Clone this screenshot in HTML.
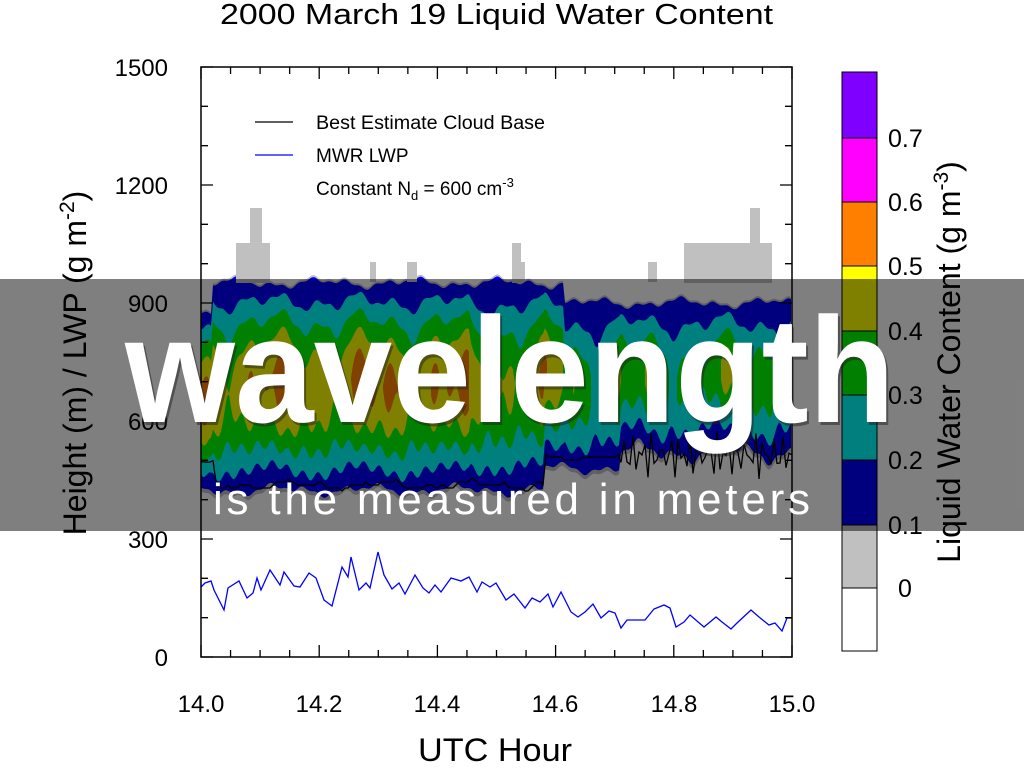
<!DOCTYPE html>
<html><head><meta charset="utf-8"><style>
html,body{margin:0;padding:0;background:#fff;}
svg{display:block;font-family:"Liberation Sans",sans-serif;}
</style></head><body>
<svg id="s" width="1024" height="768" viewBox="0 0 1024 768" xmlns="http://www.w3.org/2000/svg">
<rect width="1024" height="768" fill="#fff"/>
<text x="220" y="24" font-size="29" textLength="553" lengthAdjust="spacingAndGlyphs">2000 March 19 Liquid Water Content</text>
<g id="cloud"></g>
<g fill="#c0c0c0">
<rect x="236" y="243" width="34" height="40"/><rect x="250" y="208" width="12" height="40"/>
<rect x="370" y="262" width="6" height="20"/><rect x="407" y="262" width="10" height="20"/>
<rect x="512" y="243" width="9" height="40"/><rect x="521" y="262" width="4" height="20"/>
<rect x="648" y="262" width="9" height="20"/><rect x="684" y="243" width="88" height="40"/>
<rect x="750" y="208" width="10" height="40"/>
</g>
<polyline id="base" fill="none" stroke="#000" stroke-width="1.3"/>
<polyline id="lwp" fill="none" stroke="#0000ff" stroke-width="1.3" points="201,587 205,583 211,581 214,590 224,610 228,588 239,581 247,598 253,593 257,578 261,590 270,570 280,585 284,572 294,586 300,587 309,573 316,578 324,600 332,606 342,567 348,577 351,557 359,590 366,583 370,588 378,552 384,575 392,589 399,583 405,594 415,575 423,588 429,593 435,585 441,592 451,578 461,581 469,577 477,592 482,582 490,587 496,583 506,600 514,594 525,608 532,598 540,602 548,594 553,607 561,592 571,612 578,617 585,612 593,604 601,618 609,611 615,613 621,628 627,620 637,620 645,620 654,609 664,605 670,608 676,627 684,622 690,615 704,627 716,617 722,622 731,629 737,623 751,610 759,617 769,625 775,623 782,631 787,618 792,618"/>
<rect x="201" y="67" width="591" height="590" fill="none" stroke="#000" stroke-width="1.5"/>
<g id="ticks" stroke="#000" stroke-width="1.3"></g>
<g font-size="24" text-anchor="end">
<text x="168" y="76">1500</text><text x="168" y="194">1200</text><text x="168" y="312">900</text>
<text x="168" y="430">600</text><text x="168" y="548">300</text><text x="168" y="666">0</text>
</g>
<g font-size="24" text-anchor="middle">
<text x="201" y="712">14.0</text><text x="319" y="712">14.2</text><text x="437" y="712">14.4</text>
<text x="555" y="712">14.6</text><text x="674" y="712">14.8</text><text x="792" y="712">15.0</text>
</g>
<text x="418" y="761" font-size="32" textLength="154" lengthAdjust="spacingAndGlyphs">UTC Hour</text>
<text transform="translate(86,363) rotate(-90)" font-size="32" text-anchor="middle">Height (m) / LWP (g m<tspan dy="-12" font-size="21">-2</tspan><tspan dy="12">)</tspan></text>
<line x1="255" y1="122" x2="293" y2="122" stroke="#000" stroke-width="1.3"/>
<line x1="255" y1="155" x2="293" y2="155" stroke="#0000ff" stroke-width="1.3"/>
<g font-size="19"><text x="316" y="129" textLength="229" lengthAdjust="spacingAndGlyphs">Best Estimate Cloud Base</text><text x="316" y="162">MWR LWP</text>
<text x="316" y="195">Constant N<tspan dy="5" font-size="13">d</tspan><tspan dy="-5"> = 600 cm</tspan><tspan dy="-8" font-size="13">-3</tspan></text></g>
<g stroke="#000" stroke-width="1">
<rect x="842" y="72" width="35" height="66" fill="#8000ff"/><rect x="842" y="138" width="35" height="64" fill="#ff00ff"/>
<rect x="842" y="202" width="35" height="64" fill="#ff8000"/><rect x="842" y="266" width="35" height="65" fill="#ffff00"/>
<rect x="842" y="331" width="35" height="64" fill="#00ff00"/><rect x="842" y="395" width="35" height="65" fill="#00ffff"/>
<rect x="842" y="460" width="35" height="65" fill="#0000ff"/><rect x="842" y="525" width="35" height="63" fill="#c0c0c0"/>
<rect x="842" y="588" width="35" height="63" fill="#fff"/></g>
<g font-size="25"><text x="888" y="147">0.7</text><text x="888" y="211">0.6</text><text x="888" y="275">0.5</text>
<text x="888" y="340">0.4</text><text x="888" y="404">0.3</text><text x="888" y="469">0.2</text><text x="888" y="534">0.1</text><text x="898" y="597">0</text></g>
<text transform="translate(960,362) rotate(-90)" font-size="32" text-anchor="middle">Liquid Water Content (g m<tspan dy="-12" font-size="21">-3</tspan><tspan dy="12">)</tspan></text>
<rect x="0" y="279" width="1024" height="252" fill="#000" fill-opacity="0.5"/>
<text x="127" y="425" font-size="150" font-weight="bold" fill="#222" fill-opacity="0.5" textLength="770" lengthAdjust="spacingAndGlyphs">wavelength</text>
<text x="125" y="422" font-size="150" font-weight="bold" fill="#fff" textLength="770" lengthAdjust="spacingAndGlyphs">wavelength</text>
<text x="213" y="514" font-size="44" fill="#fff" textLength="597" lengthAdjust="spacing">is the measured in meters</text>
</svg>
<script>
(function(){
var NS="http://www.w3.org/2000/svg";
function n(x,s){return Math.sin(x*0.07+s)*0.45+Math.sin(x*0.17+s*2.3)*0.35+Math.sin(x*0.41+s*1.7)*0.2;}
var xs=[];for(var x=201;x<=792;x+=2)xs.push(x);
function T(x){var t=x<212?313:(x<565?283:303);return t+n(x,1)*7;}
function B(x){var b=x<545?490:(x<620?468:452);return b+n(x,4)*(x<620?8:14);}
function P(x){var p=x<470?0.5:(x<565?0.44:0.37);return p+n(x,7)*0.11;}
var cols=["#c0c0c0","#0000ff","#00ffff","#00ff00","#ffff00","#ff8000","#ff00ff","#8000ff"];
var lv=[0.02,0.1,0.2,0.3,0.4,0.5,0.6,0.7];
var g=document.getElementById("cloud");
for(var k=0;k<lv.length;k++){
 var L=lv[k],segs=[],cur=null;
 xs.forEach(function(x){
  var t=T(x),b=B(x),c=(t+b)/2+n(x,11)*12,h=(b-t)/2,p=P(x),f;
  if(k<=1){f=1;c=(t+b)/2;}else{f=p>L?Math.pow((p-L)/(p-0.1+0.0001),0.7):-1;}
  if(f>0){if(!cur){cur=[];segs.push(cur);}var hh=h*Math.min(f,1);var top=Math.max(c-hh,t),bot=Math.min(c+hh,b);cur.push([x,top-(k==0?2:0),bot+(k==0?4:0)]);}
  else cur=null;
 });
 segs.forEach(function(s){
  if(s.length<2){s.push([s[0][0]+2,s[0][1],s[0][2]]);}
  var d="M"+s.map(function(q){return q[0]+","+q[1].toFixed(1)}).join("L");
  for(var i=s.length-1;i>=0;i--)d+="L"+s[i][0]+","+s[i][2].toFixed(1);
  var pth=document.createElementNS(NS,"path");pth.setAttribute("d",d+"Z");pth.setAttribute("fill",cols[k]);g.appendChild(pth);
 });
}
var pts=[];
for(var x=201;x<=792;x+=3){var y;
 if(x<215)y=462+n(x,2)*4;else if(x<545)y=485+Math.round(n(x,3)*2)*3;else if(x<620)y=457+Math.round(n(x,5)*1)*3;
 else y=455+Math.sin(x*0.9)*Math.sin(x*0.23)*25;
 pts.push(x+","+y.toFixed(1));}
document.getElementById("base").setAttribute("points",pts.join(" "));
var tk=document.getElementById("ticks"),d="";
for(var i=0;i<=20;i++){var X=201+i*591/20,l=(i%4==0)?12:7;d+="M"+X+",657v-"+l+"M"+X+",67v"+l;}
for(var i=0;i<=15;i++){var Y=657-i*590/15,l=(i%3==0)?12:7;d+="M201,"+Y+"h"+l+"M792,"+Y+"h-"+l;}
var p=document.createElementNS(NS,"path");p.setAttribute("d",d);tk.appendChild(p);
})();
</script>
</body></html>
